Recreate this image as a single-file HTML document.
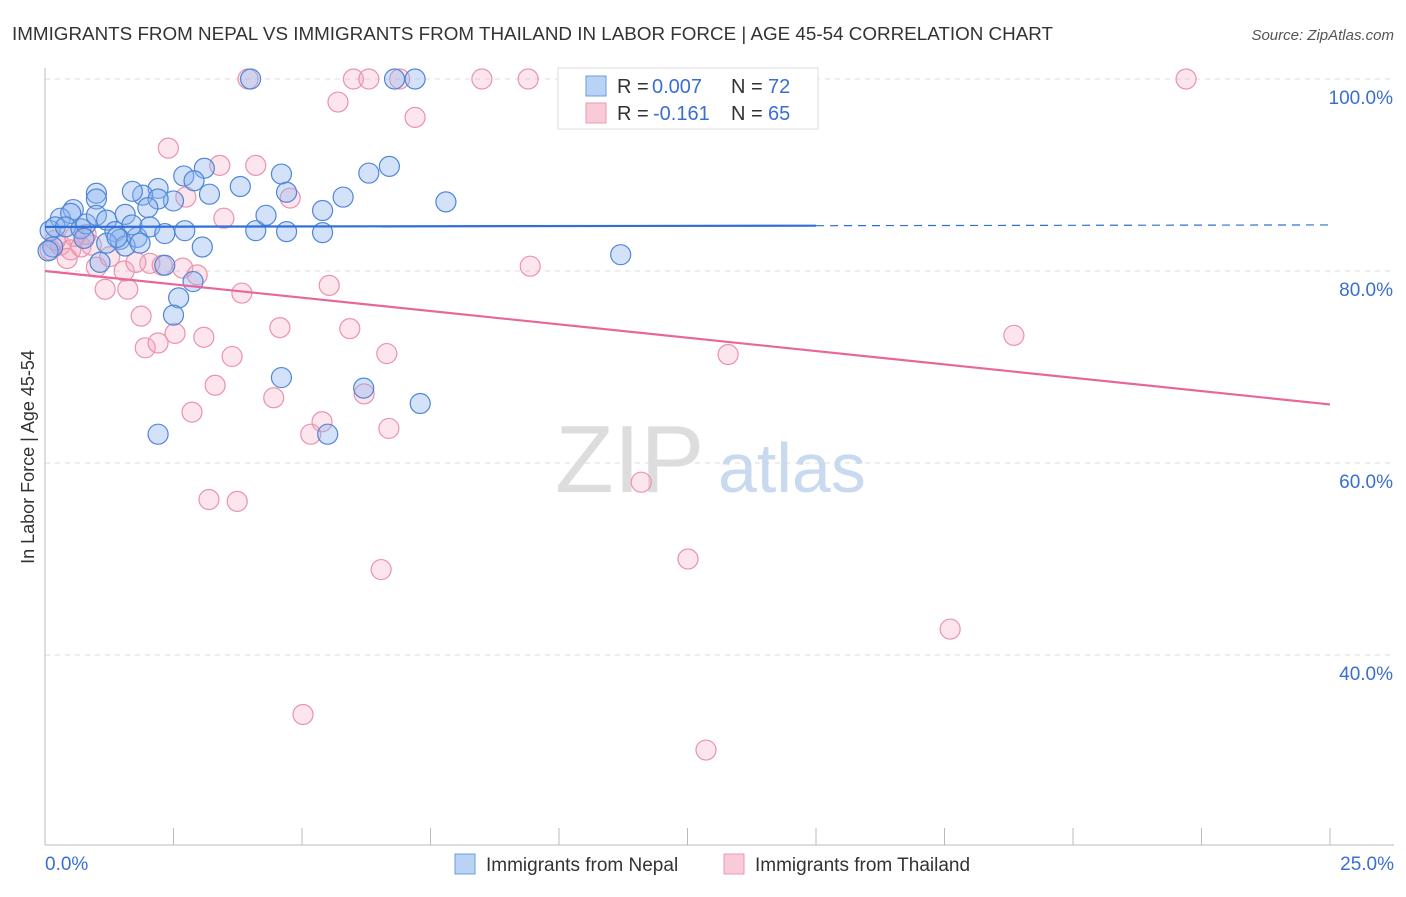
<!DOCTYPE html>
<html><head><meta charset="utf-8"><style>
body{margin:0;background:#fff;font-family:"Liberation Sans",sans-serif}
svg text{font-family:"Liberation Sans",sans-serif}
</style></head><body>
<svg id="c" width="1406" height="892" xmlns="http://www.w3.org/2000/svg">
<text x="12" y="40" font-size="18" fill="#333" textLength="1041" lengthAdjust="spacingAndGlyphs">IMMIGRANTS FROM NEPAL VS IMMIGRANTS FROM THAILAND IN LABOR FORCE | AGE 45-54 CORRELATION CHART</text>
<text x="1394" y="40" font-size="15" fill="#555" font-style="italic" text-anchor="end">Source: ZipAtlas.com</text>
<g id="grid"></g>
<text x="555" y="492" font-size="96" fill="#ddd" font-family="Liberation Serif">ZIP</text>
<text x="718" y="492" font-size="70" fill="#c9d9ef">atlas</text>
<g id="pts"></g>
<g id="lines"></g>
<text transform="translate(34,457) rotate(-90)" font-size="18" fill="#333" text-anchor="middle">In Labor Force | Age 45-54</text>
<g>
<rect x="558" y="68" width="260" height="61" fill="#fff" stroke="#ddd"/>
<rect x="586" y="76" width="20" height="20" fill="#b9d3f5" stroke="#6b9be0"/>
<rect x="586" y="103" width="20" height="20" fill="#f9cad8" stroke="#ec9ab4"/>
<text x="617" y="93" font-size="20" fill="#333">R =</text><text x="652" y="93" font-size="20" fill="#3a6fd0">0.007</text>
<text x="731" y="93" font-size="20" fill="#333">N =</text><text x="768" y="93" font-size="20" fill="#3a6fd0">72</text>
<text x="617" y="120" font-size="20" fill="#333">R =</text><text x="653" y="120" font-size="20" fill="#3a6fd0">-0.161</text>
<text x="731" y="120" font-size="20" fill="#333">N =</text><text x="768" y="120" font-size="20" fill="#3a6fd0">65</text>
</g>
<g>
<rect x="455" y="854" width="20" height="20" fill="#b9d3f5" stroke="#6b9be0"/>
<text x="486" y="871" font-size="19" fill="#333">Immigrants from Nepal</text>
<rect x="724" y="854" width="20" height="20" fill="#f9cad8" stroke="#ec9ab4"/>
<text x="755" y="871" font-size="19" fill="#333">Immigrants from Thailand</text>
</g>
</svg>
<script>
const nepalX=[4.0,6.8,7.2,2.2,2.6,2.5,4.6,6.2,7.3,5.5,11.2,7.8,6.7,6.3,5.8,5.4,5.4,4.7,4.1,4.3,4.6,4.7,3.8,3.2,3.1,2.7,2.9,2.5,2.2,1.9,2.2,2.0,1.7,1.0,1.0,0.55,0.3,0.5,0.1,0.15,0.06,0.2,0.4,0.7,0.8,1.0,1.2,1.36,1.46,1.56,1.2,1.07,1.56,1.79,1.69,2.04,2.33,2.72,3.06,2.33,2.88,0.76,1.4,1.85];
const nepalY=[100,100,100,63,77.2,75.4,68.9,67.8,66.2,63,81.7,87.2,90.9,90.2,87.7,86.3,84,84.1,84.2,85.8,90.1,88.2,88.8,88,90.7,89.9,89.4,87.3,88.6,87.9,87.5,86.6,88.3,88.1,87.5,86.4,85.5,86,84.2,82.5,82.1,84.6,84.6,84.4,84.9,85.8,85.3,84.1,83.3,82.6,82.9,80.9,85.9,83.5,84.8,84.6,83.9,84.2,82.5,80.6,78.9,83.4,83.5,82.9];
const thaiX=[3.95,6.0,6.3,6.9,8.5,9.4,11.4,22.2,5.7,7.2,2.4,3.4,4.1,4.77,2.74,3.48,9.44,5.53,3.83,2.04,2.28,2.68,2.96,1.54,1.0,1.17,1.61,1.87,1.95,2.2,2.53,3.09,3.64,4.57,5.93,6.65,13.29,18.85,3.31,2.86,4.45,6.21,5.39,5.17,6.69,11.6,3.19,3.74,6.54,12.51,17.61,5.02,12.86,0.3,0.5,0.7,0.9,0.2,0.43,1.26,1.77,0.1,0.58,0.8];
const thaiY=[100,100,100,100,100,100,100,100,97.6,96,92.8,91,91,87.6,87.7,85.5,80.5,78.5,77.7,80.8,80.6,80.3,79.6,80,80.4,78.1,78.1,75.3,72,72.5,73.5,73.1,71.1,74.1,74,71.4,71.3,73.3,68.1,65.3,66.8,67.2,64.3,63,63.6,58,56.2,56,48.9,50,42.7,33.8,30.1,82.7,82.2,82.5,82.7,83.2,81.3,81.5,80.9,82.2,83.6,83.8];
const yTicks=[100,80,60,40];
const xTickVals=[0,2.5,5,7.5,10,12.5,15,17.5,20,22.5,25];
const NS='http://www.w3.org/2000/svg';
const sx=v=>45+v/25*1285, sy=v=>79+(100-v)*9.6;
function mk(p,t,a){const e=document.createElementNS(NS,t);for(const k in a)e.setAttribute(k,a[k]);p.appendChild(e);return e;}
const g=document.getElementById('grid');
yTicks.forEach(v=>{const l=mk(g,'line',{x1:45,x2:1394,y1:sy(v),y2:sy(v),stroke:'#ddd','stroke-dasharray':'5,5'});


const t=mk(g,'text',{x:1393,y:sy(v)+25,'font-size':19,fill:'#3a6fd0','text-anchor':'end'});t.textContent=v.toFixed(1)+'%';

});
const ax=mk(g,'line',{x1:45,x2:1394,y1:845,y2:845,stroke:'#bbb'});


const ay=mk(g,'line',{x1:45,x2:45,y1:68,y2:845,stroke:'#bbb'});


xTickVals.forEach(v=>{const l=mk(g,'line',{x1:sx(v),x2:sx(v),y1:828,y2:845,stroke:'#bbb'});

});
[[0,'0.0%','start',45],[25,'25.0%','end',1394]].forEach(d=>{const t=mk(g,'text',{x:d[3],y:870,'font-size':19,fill:'#3a6fd0','text-anchor':d[2]});t.textContent=d[1];

});
const pg=document.getElementById('pts');
thaiX.forEach((x,i)=>{const c=mk(pg,'circle',{cx:sx(x),cy:sy(thaiY[i]),r:10,fill:'rgba(245,160,185,0.28)',stroke:'#eb92ae','stroke-width':1.2});

});
nepalX.forEach((x,i)=>{const c=mk(pg,'circle',{cx:sx(x),cy:sy(nepalY[i]),r:10,fill:'rgba(140,180,238,0.38)',stroke:'#4f86d8','stroke-width':1.2});

});
const lg=document.getElementById('lines');
const nb=[84.6,84.8], tb=[80,66.1];
let l1=mk(lg,'line',{x1:sx(0),y1:sy(nb[0]),x2:sx(15),y2:sy(nb[0]+(nb[1]-nb[0])*0.6),stroke:'#2f6fd6','stroke-width':2.2});


let l2=mk(lg,'line',{x1:sx(15),y1:sy(nb[0]+(nb[1]-nb[0])*0.6),x2:sx(25),y2:sy(nb[1]),stroke:'#2f6fd6','stroke-width':1.2,'stroke-dasharray':'8,6'});


let l3=mk(lg,'line',{x1:sx(0),y1:sy(tb[0]),x2:sx(25),y2:sy(tb[1]),stroke:'#e8679a','stroke-width':2.2});


</script>
</body></html>
